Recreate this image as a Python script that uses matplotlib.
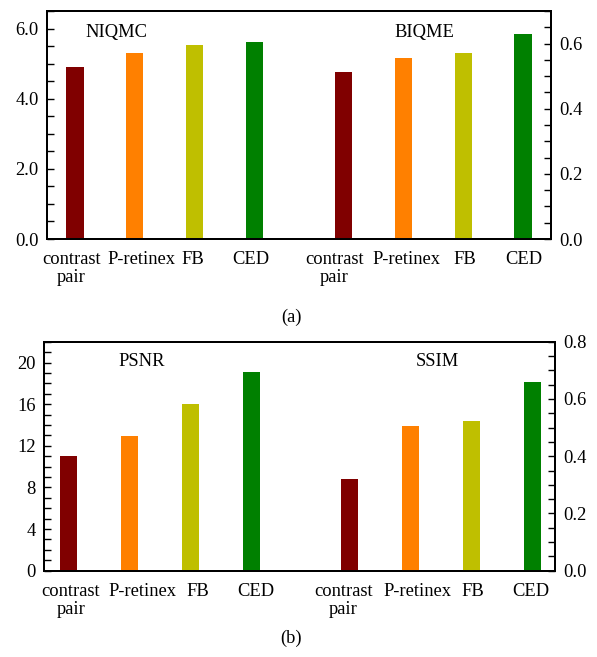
import matplotlib
matplotlib.use("Agg")
import matplotlib.pyplot as plt
from matplotlib.ticker import MultipleLocator, FormatStrFormatter
from matplotlib.transforms import ScaledTranslation

plt.rcParams['font.family'] = ['Liberation Serif', 'DejaVu Serif']

methods = ["contrast\npair", "P-retinex", "FB", "CED"]
colors = ["#800000", "#FF8000", "#BFBF00", "#008000"]

niqmc = [4.89, 5.29, 5.52, 5.61]
biqme = [0.512, 0.555, 0.571, 0.629]
psnr = [11.0, 12.9, 16.0, 19.1]
ssim = [0.319, 0.504, 0.523, 0.659]

W, H = 597, 657
fig = plt.figure(figsize=(W / 100, H / 100), dpi=100)
FS = 13.3


def rect(l, r, t, b):
    return [l / W, (H - b) / H, (r - l) / W, (b - t) / H]


def panel(box, lvals, rvals, gap, ylimL, ylimR, majL, minL, majR, minR, fmtL, fmtR,
          lname, rname, lname_pos, rname_pos, xlim, bw, label_dx):
    ax = fig.add_axes(rect(*box))
    ax2 = ax.twinx()
    xl = [0, 1, 2, 3]
    xr = [gap + i for i in range(4)]
    ax.bar(xl, lvals, width=bw, color=colors)
    ax2.bar(xr, rvals, width=bw, color=colors)
    ax.set_xlim(*xlim)
    ax.set_ylim(*ylimL)
    ax2.set_ylim(*ylimR)
    ax.set_xticks(xl + xr)
    ax.set_xticklabels(methods + methods, fontsize=FS, linespacing=1.05)
    ax.tick_params(axis='x', length=0, pad=9)
    for lab, dx in zip(ax.get_xticklabels(), label_dx):
        lab.set_transform(lab.get_transform() +
                          ScaledTranslation(dx / 100, 0, fig.dpi_scale_trans))
    ax.yaxis.set_major_locator(MultipleLocator(majL))
    ax.yaxis.set_minor_locator(MultipleLocator(minL))
    ax.yaxis.set_major_formatter(FormatStrFormatter(fmtL))
    ax2.yaxis.set_major_locator(MultipleLocator(majR))
    ax2.yaxis.set_minor_locator(MultipleLocator(minR))
    ax2.yaxis.set_major_formatter(FormatStrFormatter(fmtR))
    ax.tick_params(axis='y', which='both', direction='in', length=5, width=1,
                   left=True, right=False, labelsize=FS, pad=6)
    ax2.tick_params(axis='y', which='both', direction='in', length=5, width=1,
                    right=True, left=False, labelsize=FS, pad=6)
    for a in (ax, ax2):
        for s in a.spines.values():
            s.set_linewidth(1.4)
    ax.text(lname_pos[0], lname_pos[1], lname, transform=ax.get_xaxis_transform(),
            fontsize=FS, ha='center', va='center')
    ax.text(rname_pos[0], rname_pos[1], rname, transform=ax.get_xaxis_transform(),
            fontsize=FS, ha='center', va='center')
    return ax, ax2


# panel (a)
panel((47, 551, 11, 239), niqmc, biqme, 4.5, (0, 6.5), (0, 0.70),
      2.0, 0.5, 0.2, 0.05, '%.1f', '%.1f',
      'NIQMC', 'BIQME', (0.7, (239 - 32) / 228), (5.85, (239 - 32) / 228),
      (-0.47, 7.97), 0.29, [-4, 6.3, -1.4, -3, -9.2, 2.6, 2, 0.7])

# panel (b)
panel((44, 555, 341.7, 570.7), psnr, ssim, 4.6, (0, 22), (0, 0.8),
      4, 1, 0.2, 0.05, '%d', '%.1f',
      'PSNR', 'SSIM', (1.2, (570.7 - 361.7) / 229), (6.05, (570.7 - 361.7) / 229),
      (-0.405, 7.97), 0.28, [2.3, 12.8, 6.8, 3.8, -5.8, 7.2, 1.2, -1.8])

fig.text(291 / W, 1 - 317 / H, '(a)', fontsize=FS, ha='center', va='center')
fig.text(291 / W, 1 - 638 / H, '(b)', fontsize=FS, ha='center', va='center')

fig.savefig('out.png', dpi=100)
